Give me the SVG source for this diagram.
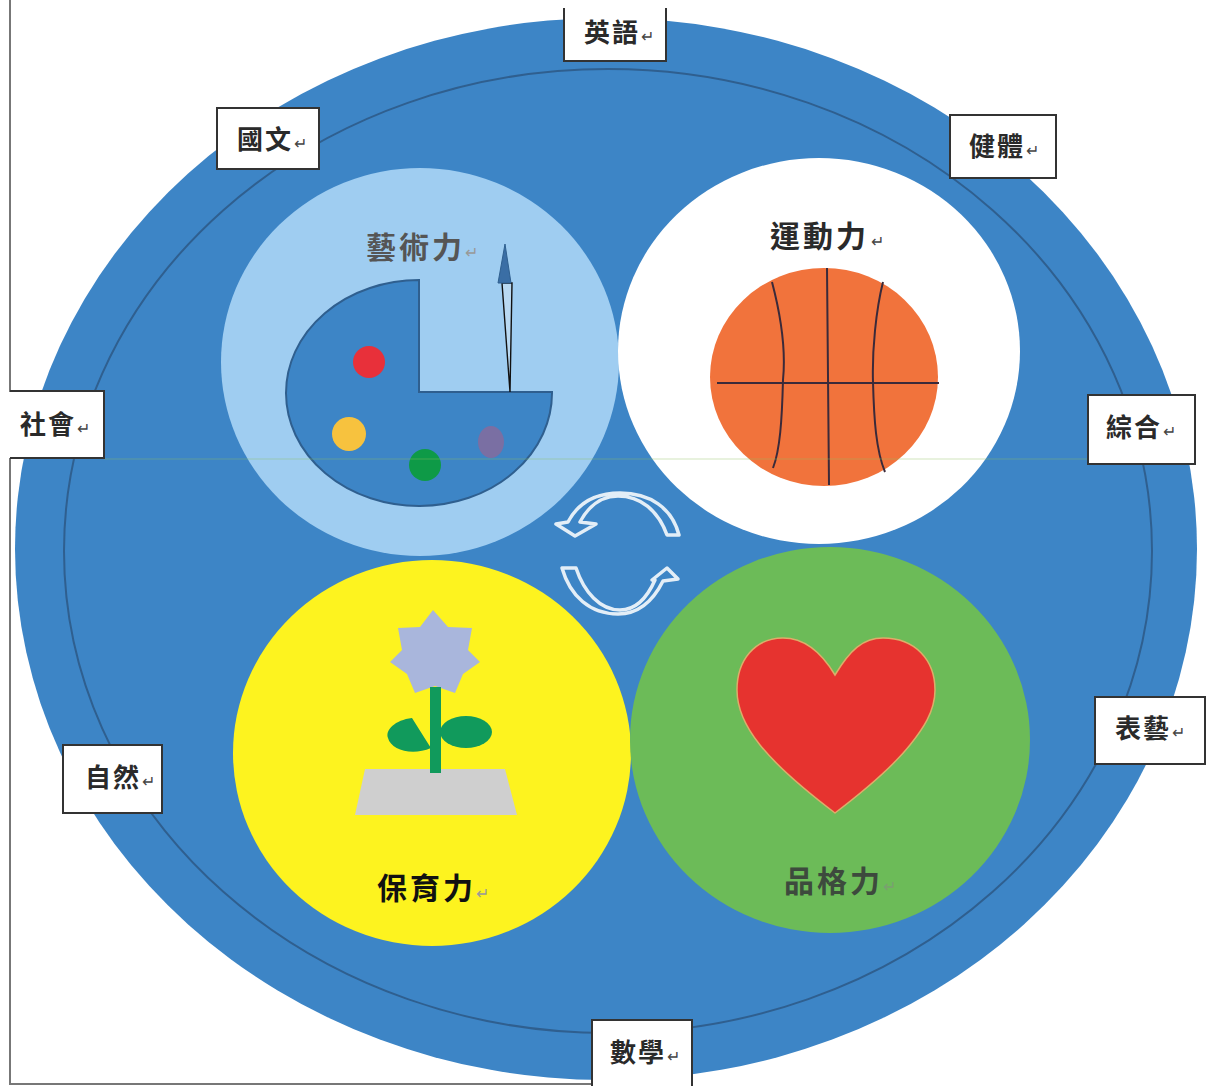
<svg xmlns="http://www.w3.org/2000/svg" width="1206" height="1086" viewBox="0 0 1206 1086">
<style>
text{font-family:"Noto Sans CJK TC","Noto Sans CJK SC",sans-serif;font-weight:700;fill:#2a2a2a}
.lb{font-size:26px;letter-spacing:2px}
.t{font-size:30px;letter-spacing:3px}
.rt{font-size:16px;font-weight:400;fill:#444;letter-spacing:0}
.box{fill:#fff;stroke:#333;stroke-width:2}
.arr{fill:none;stroke:#e3eef7;stroke-width:3.5;stroke-linejoin:round}
.ln{fill:none;stroke:#3a2a3a;stroke-width:2}
</style>
<rect width="1206" height="1086" fill="#fff"/>
<g id="frame">
<path d="M10,0V392M10,458V1084H592" fill="none" stroke="#777" stroke-width="2"/>
</g>
<g id="background">
<ellipse cx="606" cy="549" rx="591" ry="531" fill="#3d85c6"/>
<ellipse cx="608" cy="551" rx="544" ry="482" fill="none" stroke="#2f5f8f" stroke-width="2"/>
</g>
<g id="node-art">
<ellipse cx="420" cy="362" rx="199" ry="194" fill="#9fcdf1"/>
<path d="M419,280V392H552A133,113 0 1 1 419,280Z" fill="#3d85c6" stroke="#2f5f8f" stroke-width="2"/>
<circle cx="369" cy="362" r="16" fill="#e8303a"/>
<circle cx="349" cy="434" r="17" fill="#f7c23e"/>
<circle cx="425" cy="465" r="16" fill="#0e9a47"/>
<ellipse cx="491" cy="442" rx="13" ry="16" fill="#7a6fa3"/>
<path d="M502,283L512,283L510,392Z" fill="#b9d9f2" stroke="#111" stroke-width="1.4"/>
<path d="M505,244L498,283H511Z" fill="#3a6ea5" stroke="#2f5f8f" stroke-width="1"/>
<text class="t" x="366" y="258" style="fill:#555">藝術力<tspan class="rt" dx="0" style="fill:#999">↵</tspan></text>
</g>
<g id="node-sport">
<ellipse cx="819" cy="351" rx="201" ry="193" fill="#fff"/>
<ellipse cx="824" cy="377" rx="114" ry="109" fill="#f1733c"/>
<path class="ln" d="M717,383H939M827,268L829,485M772,282C782,320 786,350 783,380C782,420 780,450 773,468M883,282C876,310 872,350 873,382C874,420 876,450 885,472"/>
<text class="t" x="770" y="247">運動力<tspan class="rt" dx="2">↵</tspan></text>
</g>
<g id="node-nurture">
<ellipse cx="432" cy="753" rx="199" ry="193" fill="#fdf31f"/>
<path d="M365,769H505L517,815H355Z" fill="#cfcfcf"/>
<path d="M433,610L448,627L472,628L468,650L480,662L463,674L455,693L435,686L415,693L407,674L390,662L402,650L398,628L420,627Z" fill="#a9b6dc"/>
<rect x="430" y="687" width="11" height="86" fill="#119a5c"/>
<path d="M412,718C395,720 385,730 388,738C391,750 412,756 431,748L429,745Z" fill="#119a5c"/>
<ellipse cx="466" cy="732" rx="26" ry="16" fill="#119a5c"/>
<text class="t" x="377" y="899" style="fill:#111">保育力<tspan class="rt" dx="0" style="fill:#999">↵</tspan></text>
</g>
<g id="node-character">
<ellipse cx="830" cy="740" rx="200" ry="193" fill="#6cbb58"/>
<path d="M835,675C820,650 803,638 783,638C755,638 737,660 737,690C737,712 748,730 760,745C780,770 810,794 835,813C860,794 890,770 910,745C922,730 935,712 935,690C935,660 915,638 883,638C863,638 850,650 835,675Z" fill="#e6332f" stroke="#dcae6a" stroke-width="1.5"/>
<text class="t" x="784" y="892" style="fill:#3d4a3d">品格力<tspan class="rt" dx="0" style="fill:#7aa070">↵</tspan></text>
</g>
<path id="scan-line" d="M104,459H1088" stroke="#8fbf60" stroke-width="1.2" opacity=".4"/>
<g id="connectors">
<path class="arr" d="M679,535H667C658,510 640,496 618,496C601,496 588,507 580,522L596,524L575,536L556,524L568,522C578,503 595,493 620,493C650,493 672,508 679,535Z"/>
<path class="arr" d="M562,568H576C584,592 600,610 620,610C635,610 647,598 655,580L652,580L667,568L678,579L663,581C652,603 638,614 618,614C590,614 570,596 562,568Z"/>
</g>
<g id="label-english"><rect x="564" y="8" width="102" height="53" fill="#fff"/><path class="box" style="fill:none" d="M564,8V61H666V8"/><text class="lb" x="584" y="42">英語<tspan class="rt" dx="1">↵</tspan></text></g>
<g id="label-chinese"><rect class="box" x="217" y="108" width="102" height="61"/><text class="lb" x="237" y="149">國文<tspan class="rt" dx="1">↵</tspan></text></g>
<g id="label-pe"><rect class="box" x="950" y="115" width="106" height="63"/><text class="lb" x="969" y="156">健體<tspan class="rt" dx="1">↵</tspan></text></g>
<g id="label-social"><rect x="10" y="391" width="94" height="67" fill="#fff"/><path class="box" style="fill:none" d="M10,391H104V458H10"/><text class="lb" x="20" y="434">社會<tspan class="rt" dx="1">↵</tspan></text></g>
<g id="label-integrated"><rect class="box" x="1088" y="395" width="107" height="69"/><text class="lb" x="1106" y="437">綜合<tspan class="rt" dx="1">↵</tspan></text></g>
<g id="label-arts"><rect class="box" x="1095" y="697" width="110" height="67"/><text class="lb" x="1115" y="738">表藝<tspan class="rt" dx="1">↵</tspan></text></g>
<g id="label-science"><rect class="box" x="63" y="745" width="99" height="68"/><text class="lb" x="85" y="787">自然<tspan class="rt" dx="1">↵</tspan></text></g>
<g id="label-math"><rect class="box" x="592" y="1020" width="100" height="70"/><text class="lb" x="610" y="1062">數學<tspan class="rt" dx="1">↵</tspan></text></g>
</svg>
